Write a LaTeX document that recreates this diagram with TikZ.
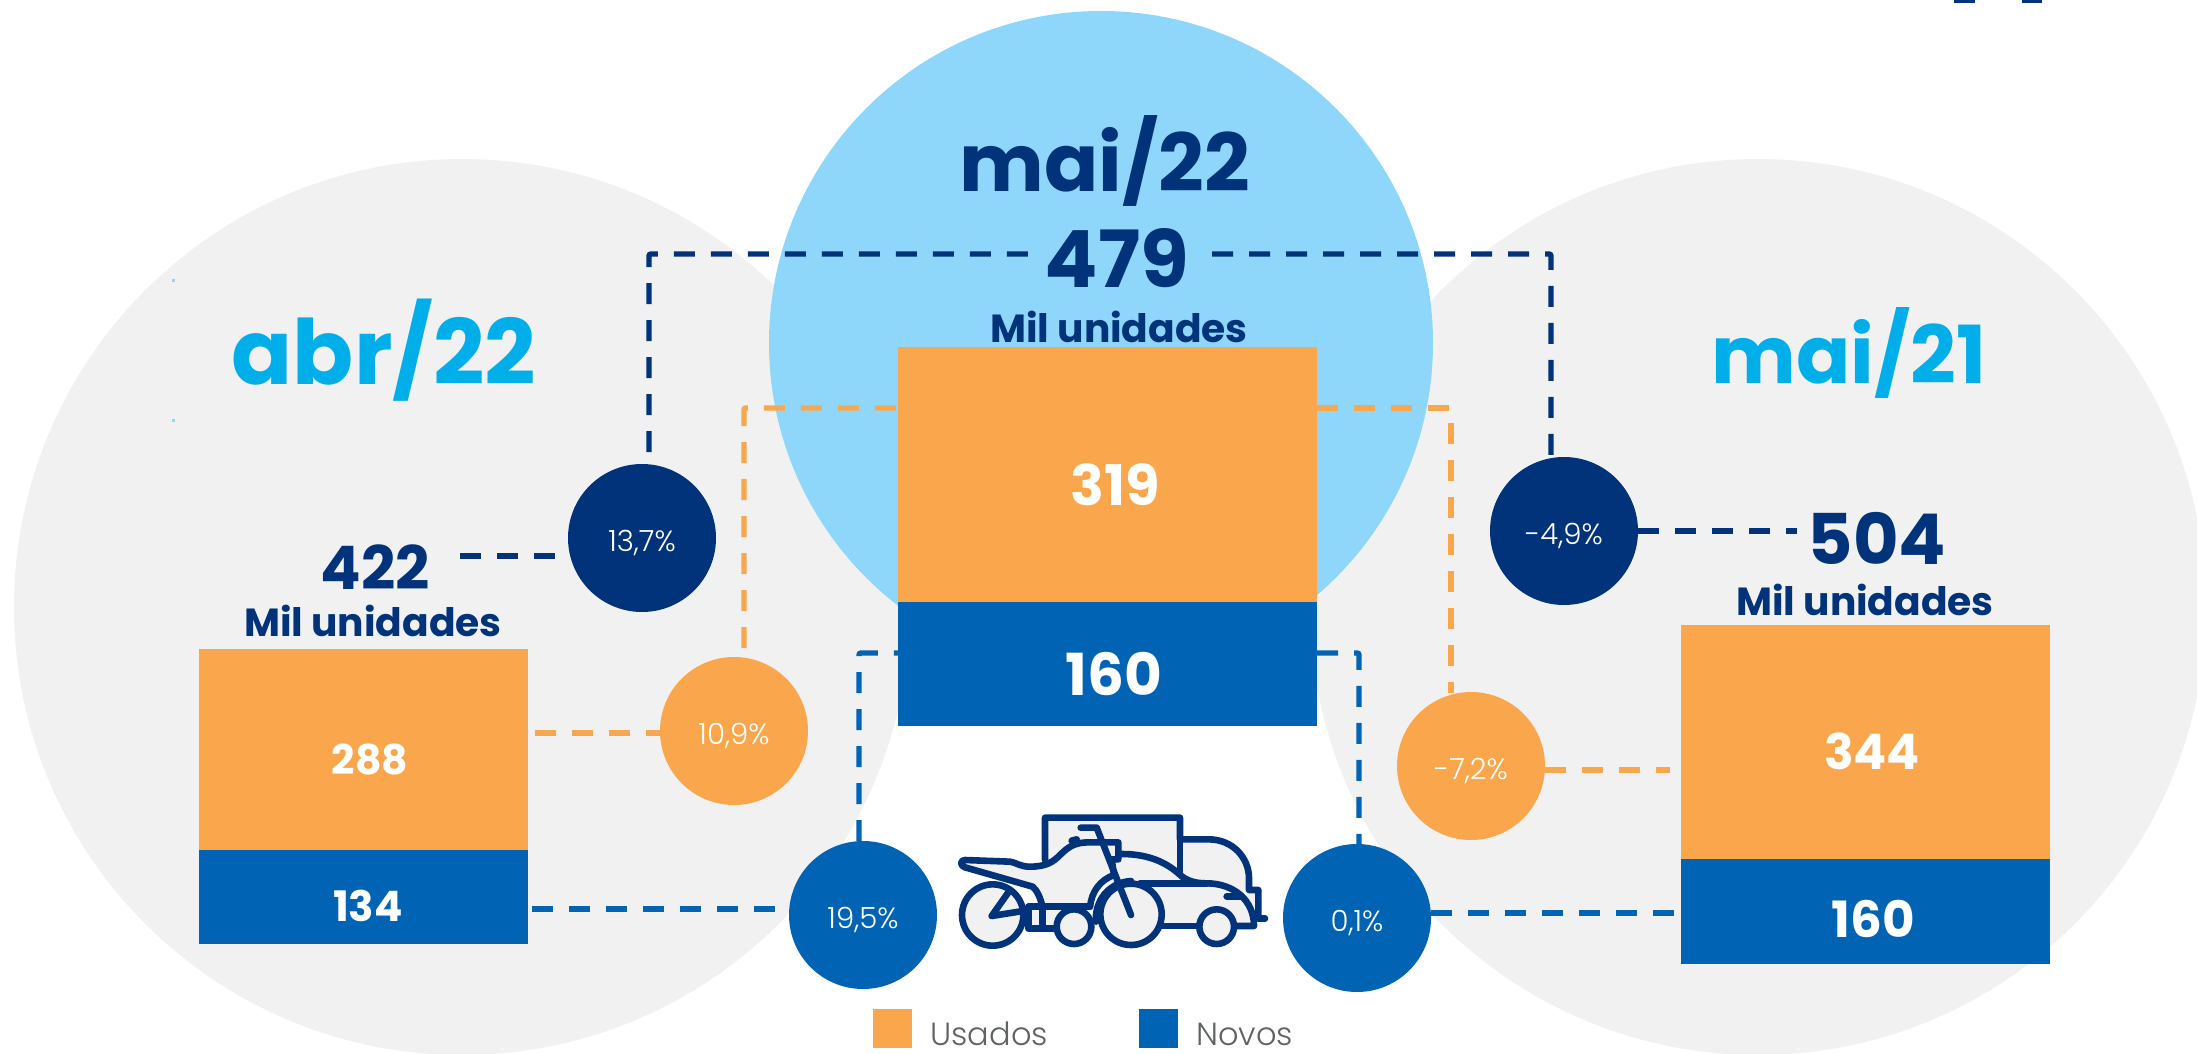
\documentclass[tikz,border=0pt]{standalone}
\usepackage{fontspec}
\setmainfont{Poppins}
\newfontfamily\lightf{Poppins Light}
\newcommand{\fsz}[1]{\fontsize{#1}{#1}\selectfont}
\newcommand{\pc}[1]{\raisebox{-6.5pt}[5pt][5pt]{#1}}
\definecolor{grayc}{HTML}{F1F1F1}
\definecolor{skyc}{HTML}{8FD6FB}
\definecolor{navy}{HTML}{00337A}
\definecolor{cyanc}{HTML}{00AEEA}
\definecolor{orangec}{HTML}{FAA64C}
\definecolor{bluec}{HTML}{0063B4}
\definecolor{legc}{HTML}{5F6362}
\tikzset{
  bar/.style={minimum width=#1,inner sep=0pt,outer sep=0pt},
  num/.style={inner sep=0pt,text=white,font=\bfseries\fsz{#1}},
  pct/.style={circle,minimum size=74pt,inner sep=0pt,outer sep=0pt,text=white,font=\lightf\fsz{14.6}},
  dline/.style={dash pattern=on 10.5pt off 8pt,line width=2.7pt,rounded corners=1pt},
  title/.style={inner sep=0pt,font=\bfseries\fsz{#1}},
  total/.style={inner sep=0pt,text=navy,font=\bfseries\fsz{#1}},
  mil/.style={inner sep=0pt,text=navy,font=\bfseries\fsz{19.6}},
  leg/.style={inner sep=0pt,anchor=west,text=legc,font=\lightf\fsz{16}},
  swatch/.style={minimum size=19.5pt,inner sep=0pt,outer sep=0pt},
  icon/.style={draw=navy,line width=3.3pt,fill=grayc,line join=round,line cap=round},
  iconl/.style={draw=navy,line width=3.3pt,line join=round,line cap=round}
}
\begin{document}
\begin{tikzpicture}[x=0.5pt,y=-0.5pt]
\useasboundingbox (0,0) rectangle (2197,1054);
% background discs
\fill[grayc] (462,607) circle[radius=448];
\fill[grayc] (1758,607) circle[radius=448];
\fill[skyc] (1101,343) circle[radius=332];
\fill[skyc] (171.5,278.5) rectangle (175,281.5);
\fill[skyc] (172,418.5) rectangle (175,421.5);
\fill[navy] (1954,0) rectangle (1975,3);
\fill[navy] (2022,0) rectangle (2042,3);
% bars
\node[bar=209.5pt,minimum height=127.5pt,fill=orangec] (o22) at (1107.5,474.5) {};
\node[bar=209.5pt,minimum height=62pt,fill=bluec] (n22) at (1107.5,664) {};
\node[bar=164.5pt,minimum height=100.5pt,fill=orangec] (oabr) at (363.5,749.5) {};
\node[bar=164.5pt,minimum height=47pt,fill=bluec] (nabr) at (363.5,897) {};
\node[bar=184.5pt,minimum height=117pt,fill=orangec] (o21) at (1865.5,742) {};
\node[bar=184.5pt,minimum height=52.5pt,fill=bluec] (n21) at (1865.5,911.5) {};
\node[num=28] (v319) at (1115,485) {319};
\node[num=29] (v160a) at (1114,674) {160};
\node[num=20.5] (v288) at (370,759) {288};
\node[num=21] (v134) at (368,906) {134};
\node[num=24.5] (v344) at (1872,751) {344};
\node[num=25] (v160b) at (1873,919) {160};
% percentage discs
\node[pct,fill=navy] (p1) at (642,538) {\pc{13,7\%}};
\node[pct,fill=navy] (p2) at (1564,531) {\pc{-4,9\%}};
\node[pct,fill=orangec] (p3) at (734,731) {\pc{10,9\%}};
\node[pct,fill=orangec] (p4) at (1471,766) {\pc{-7,2\%}};
\node[pct,fill=bluec] (p5) at (863,915) {\pc{19,5\%}};
\node[pct,fill=bluec] (p6) at (1357,918) {\pc{0,1\%}};
% texts
\node[title=40,text=navy] (tm22) at (1105,161) {mai/22};
\node[title=45,text=cyanc] (tabr) at (384,350) {abr/22};
\node[title=40,text=cyanc] (tm21) at (1849,353) {mai/21};
\node[total=39.5] (t479) at (1117,258) {479};
\node[mil] (m479) at (1119,327) {Mil unidades};
\node[total=30] (t422) at (375,567) {422};
\node[mil] (m422) at (373,621) {Mil unidades};
\node[total=35] (t504) at (1877,538) {504};
\node[mil] (m504) at (1865,600) {Mil unidades};
% corner and end coordinates
\coordinate (a1) at (649,254); \coordinate (a2) at (1030,254);
\coordinate (a3) at (1212,254); \coordinate (a4) at (1551,254);
\coordinate (b1) at (744,408); \coordinate (b2) at (1451,408);
\coordinate (c1) at (859,653); \coordinate (c2) at (1359,653);
% connectors
\draw[dline,navy] (649,452) -- (a1) -- (a2);
\draw[dline,navy] (a3) -- (a4) -- (1551,455);
\draw[dline,navy] (460,556) -- (p1.west |- 0,556);
\draw[dline,navy] (p2.east) -- (1797,531);
\draw[dline,orangec] (744,648) -- (b1) -- (o22.west |- b1);
\draw[dline,orangec] (o22.east |- b2) -- (b2) -- (1451,693);
\draw[dline,orangec] (535,733) -- (p3.west |- 0,733);
\draw[dline,orangec] (p4.east |- 0,770) -- (1670,770);
\draw[dline,bluec] (859,841) -- (c1) -- (n22.west |- c1);
\draw[dline,bluec] (n22.east |- c2) -- (c2) -- (1359,845);
\draw[dline,bluec] (532,909) -- (p5.west |- 0,909);
\draw[dline,bluec] (p6.east |- 0,913) -- (1674,913);
% icon, in the coordinates of a 3x crop
\begin{scope}[shift={(850,780)},x=0.16667pt,y=-0.16667pt]
  % truck
  \fill[grayc] (585,113) -- (990,113) -- (990,178) -- (1075,178)
     .. controls (1150,178) and (1197,235) .. (1197,295) -- (1197,330) -- (1225,330) -- (1225,415) -- (1000,415) -- (800,300) -- (585,250) -- cycle;
  \draw[iconl] (585,240) -- (585,113) -- (990,113) -- (990,178) -- (1075,178)
     .. controls (1150,178) and (1197,235) .. (1197,295) -- (1197,330) -- (1225,330) -- (1225,415);
  \draw[iconl] (990,178) -- (990,285);
  % car
  \fill[grayc] (815,222) .. controls (900,222) and (950,250) .. (985,280)
     .. controls (1010,305) and (1040,310) .. (1070,310)
     .. controls (1150,310) and (1212,360) .. (1212,438) -- (800,438) -- (770,300) -- cycle;
  \draw[iconl] (815,222) .. controls (900,222) and (950,250) .. (985,280)
     .. controls (1010,305) and (1040,310) .. (1070,310)
     .. controls (1150,310) and (1212,360) .. (1212,438) -- (1150,438);
  \draw[iconl] (925,438) -- (1050,438);
  \draw[iconl] (1130,349) -- (1175,349);
  \draw[iconl] (1225,415) -- (1245,415);
  \draw[iconl] (870,310) -- (1070,310);
  % motorbike body
  \draw[icon] (345,240) -- (480,245) .. controls (505,250) and (510,260) .. (540,260)
     .. controls (590,260) and (610,245) .. (630,225)
     .. controls (660,195) and (680,187) .. (720,187) -- (805,187) -- (805,238) -- (785,238)
     -- (792,285) .. controls (750,300) and (725,335) .. (720,380) -- (578,380)
     .. controls (570,355) and (565,335) .. (548,320) -- (345,262)
     .. controls (330,258) and (330,240) .. (345,240) -- cycle;
  \draw[iconl] (665,182) -- (680,178);
  % lower frame
  \fill[grayc] (535,380) rectangle (720,445);
  \draw[iconl] (720,380) -- (535,380) -- (535,445) -- (620,445);
  \draw[iconl] (578,380) -- (578,445);
  % rear wheel and stays
  \draw[icon] (428,405) circle[radius=92];
  \draw[iconl] (480,330) -- (425,408) -- (525,392);
  % small wheel
  \draw[icon] (672,440) circle[radius=52];
  % mudguard
  \draw[iconl] (738,425) .. controls (733,370) and (770,308) .. (843,303);
  % front wheel and fork
  \draw[icon] (843,403) circle[radius=92];
  \draw[iconl] (692,143) -- (740,143) -- (843,405);
  % car wheel
  \draw[icon] (1100,440) circle[radius=52];
\end{scope}
% legend
\node[swatch,fill=orangec] (su) at (892.5,1028.5) {};
\node[swatch,fill=bluec] (sn) at (1158.5,1028.5) {};
\node[leg] (lu) at (930,1034) {Usados};
\node[leg] (ln) at (1196,1034) {Novos};
\end{tikzpicture}
\end{document}
